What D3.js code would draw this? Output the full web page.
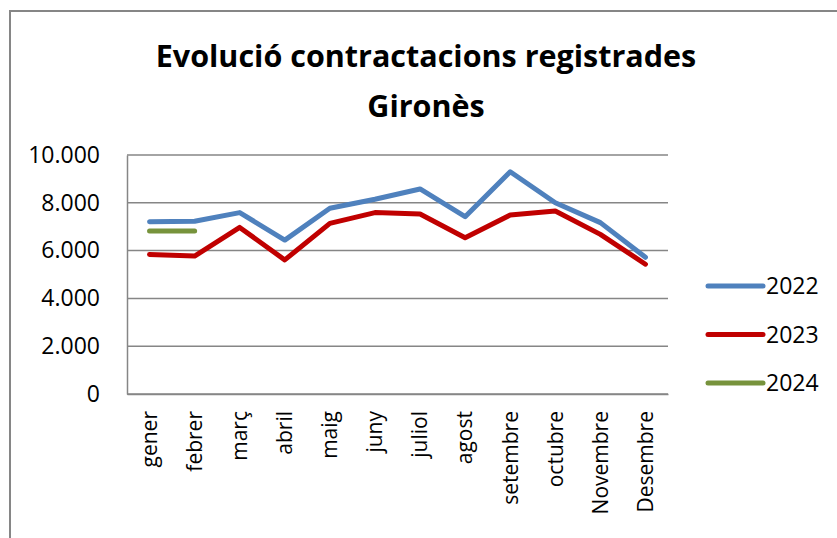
<!DOCTYPE html>
<html>
<head>
<meta charset="utf-8">
<script src="https://cdn.jsdelivr.net/npm/d3@7"></script>
<style>
  body { margin: 0; background: #fff; }
  svg { display: block; font-family: "Open Sans", sans-serif; }
</style>
</head>
<body>
<script>
// months on the x axis
const months = ['gener', 'febrer', 'març', 'abril', 'maig', 'juny', 'juliol', 'agost',
  'setembre', 'octubre', 'Novembre', 'Desembre'];

// contractacions per any
const values2022 = [7210, 7230, 7590, 6440, 7770, 8150, 8580, 7420, 9300, 8000, 7170, 5720];
const values2023 = [5840, 5770, 6970, 5610, 7140, 7590, 7530, 6540, 7490, 7660, 6680, 5430];
const values2024 = [6820, 6820];

const yTicks = [0, 2000, 4000, 6000, 8000, 10000];
const seriesNames = ['2022', '2023', '2024'];
const seriesColors = ['#4f81bd', '#c00000', '#77933c'];

const width = 837, height = 538;
const plot = { left: 127, right: 668, top: 155, bottom: 394 };

const svg = d3.select('body').append('svg')
  .attr('width', width)
  .attr('height', height);

// chart frame (runs off the page on the right and bottom)
svg.append('rect')
  .attr('x', 10).attr('y', 11)
  .attr('width', 840).attr('height', 540)
  .attr('fill', 'none')
  .attr('stroke', '#868686')
  .attr('stroke-width', 2);

// title
const title = svg.append('text')
  .attr('text-anchor', 'middle')
  .attr('font-weight', 'bold')
  .attr('font-size', 30.5)
  .attr('fill', '#000');
title.append('tspan').attr('x', 426).attr('y', 67).text('Evolució contractacions registrades');
title.append('tspan').attr('x', 426).attr('y', 117).text('Gironès');

const x = d3.scaleBand()
  .domain(months)
  .range([plot.left, plot.right]);

const y = d3.scaleLinear()
  .domain([0, 10000])
  .range([plot.bottom, plot.top]);

// gridlines
svg.append('g')
  .selectAll('line')
  .data(yTicks)
  .join('line')
  .attr('x1', plot.left).attr('x2', plot.right)
  .attr('y1', d => y(d)).attr('y2', d => y(d))
  .attr('stroke', '#868686')
  .attr('stroke-width', 1.5);

// y axis
const yAxis = svg.append('g')
  .attr('transform', `translate(${plot.left},0)`)
  .call(d3.axisLeft(y)
    .tickValues(yTicks)
    .tickSize(0)
    .tickPadding(27)
    .tickFormat(d => d3.format(',')(d).replace(/,/g, '.')));
yAxis.select('.domain').attr('stroke', '#868686').attr('stroke-width', 1.5);
yAxis.selectAll('text')
  .attr('font-family', '"Open Sans", sans-serif')
  .attr('font-size', 23)
  .attr('fill', '#000');

// x axis
const xAxis = svg.append('g')
  .attr('transform', `translate(0,${plot.bottom})`)
  .call(d3.axisBottom(x).tickSize(0).tickPadding(0));
xAxis.select('.domain').attr('stroke', '#868686').attr('stroke-width', 1.5);
xAxis.selectAll('text')
  .attr('font-family', '"Open Sans", sans-serif')
  .attr('font-size', 21)
  .attr('fill', '#000')
  .attr('text-anchor', 'end')
  .attr('transform', 'translate(0,17) rotate(-90)')
  .attr('y', 0)
  .attr('dy', '0.35em');

// series lines
const line = d3.line()
  .x((d, i) => x(months[i]) + x.bandwidth() / 2)
  .y(d => y(d));

const allSeries = [values2022, values2023, values2024];
svg.append('g')
  .selectAll('path')
  .data(allSeries)
  .join('path')
  .attr('d', line)
  .attr('fill', 'none')
  .attr('stroke', (d, i) => seriesColors[i])
  .attr('stroke-width', 5)
  .attr('stroke-linejoin', 'round')
  .attr('stroke-linecap', 'round');

// legend
const legend = svg.append('g')
  .selectAll('g')
  .data(seriesNames)
  .join('g')
  .attr('transform', (d, i) => `translate(708,${286 + i * 48.5})`);
legend.append('line')
  .attr('x1', 0).attr('x2', 55)
  .attr('stroke', (d, i) => seriesColors[i])
  .attr('stroke-width', 5)
  .attr('stroke-linecap', 'round');
legend.append('text')
  .attr('x', 58)
  .attr('dy', '0.35em')
  .attr('font-size', 23)
  .attr('fill', '#000')
  .text(d => d);
</script>
</body>
</html>
